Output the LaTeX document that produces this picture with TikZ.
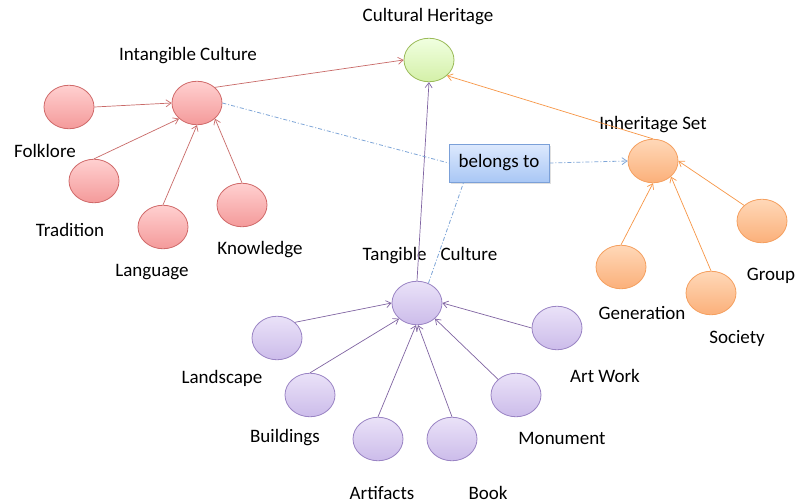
\documentclass[tikz,border=0pt]{standalone}
\usepackage{fontspec}
\setmainfont{Carlito}
\usetikzlibrary{shapes.geometric,arrows.meta}
\definecolor{redline}{HTML}{C0504D}
\definecolor{redfill1}{HTML}{FFD0D0}
\definecolor{redfill2}{HTML}{F49A9A}
\definecolor{redborder}{HTML}{D06A6A}
\definecolor{grnfill1}{HTML}{F0FFE0}
\definecolor{grnfill2}{HTML}{D4F0A8}
\definecolor{grnborder}{HTML}{9BBB59}
\definecolor{orgline}{HTML}{F79646}
\definecolor{orgfill1}{HTML}{FFD8B8}
\definecolor{orgfill2}{HTML}{FBB07A}
\definecolor{orgborder}{HTML}{F5A060}
\definecolor{purline}{HTML}{8064A2}
\definecolor{purfill1}{HTML}{EAE2F8}
\definecolor{purfill2}{HTML}{CCBCEA}
\definecolor{purborder}{HTML}{9A84C4}
\definecolor{blueline}{HTML}{7FA6D8}
\definecolor{boxfill1}{HTML}{DDE9FD}
\definecolor{boxfill2}{HTML}{A9C7F5}
\definecolor{boxborder}{HTML}{7BA0D8}
\tikzset{
  blob/.style={ellipse, minimum width=50pt, minimum height=43.5pt, inner sep=0pt, line width=0.8pt},
  redblob/.style={blob, draw=redborder, top color=redfill1, bottom color=redfill2},
  grnblob/.style={blob, draw=grnborder, top color=grnfill1, bottom color=grnfill2},
  orgblob/.style={blob, draw=orgborder, top color=orgfill1, bottom color=orgfill2},
  purblob/.style={blob, draw=purborder, top color=purfill1, bottom color=purfill2},
  lbl/.style={font=\fontsize{19}{22}\selectfont, text=black, inner sep=0pt},
  arr/.style={-{Straight Barb[length=5pt,width=7pt]}, line width=0.7pt},
  redarr/.style={arr, draw=redline!85},
  orgarr/.style={arr, draw=orgline},
  purarr/.style={arr, draw=purline},
  bluedash/.style={draw=blueline, line width=0.8pt, dash pattern=on 4pt off 2pt on 1pt off 2pt},
  bluearr/.style={bluedash, -{Straight Barb[length=5pt,width=7pt]}},
  boxsty/.style={draw=boxborder, top color=boxfill1, bottom color=boxfill2, minimum width=100pt, minimum height=38pt, line width=0.8pt, font=\fontsize{19}{22}\selectfont}
}
\begin{document}
\begin{tikzpicture}[x=1pt,y=-1pt]
\useasboundingbox (0,0) rectangle (797,503);
\fill[white] (0,0) rectangle (797,503);
% nodes
\node[grnblob] (ch) at (429,60) {};
\node[redblob] (intang) at (197,103) {};
\node[redblob] (folk) at (69,107) {};
\node[redblob] (trad) at (94,181) {};
\node[redblob] (lang) at (163,227) {};
\node[redblob] (know) at (242,205) {};
\node[orgblob] (inh) at (653,161) {};
\node[orgblob] (group) at (762,221) {};
\node[orgblob] (gen) at (621,267) {};
\node[orgblob] (soc) at (711,293) {};
\node[purblob] (tang) at (417,303) {};
\node[purblob] (land) at (277,338) {};
\node[purblob] (build) at (310,395) {};
\node[purblob] (artf) at (378,439) {};
\node[purblob] (book) at (452,439) {};
\node[purblob] (monu) at (516,395) {};
\node[purblob] (artw) at (557,328) {};
\fill[black!12] (450.5,145.5) rectangle (550.5,183.5);
\node[boxsty] (bel) at (499,163) {belongs to};
% labels
\node[lbl] (lch) at (428,17) {Cultural Heritage};
\node[lbl] (lintang) at (188,56) {Intangible Culture};
\node[lbl] (lfolk) at (45,151) {Folklore};
\node[lbl] (ltrad) at (70,230) {Tradition};
\node[lbl] (llang) at (152,272) {Language};
\node[lbl] (lknow) at (260,250) {Knowledge};
\node[lbl] (linh) at (653,125) {Inheritage Set};
\node[lbl] (lgroup) at (771,276) {Group};
\node[lbl] (lgen) at (642,313) {Generation};
\node[lbl] (lsoc) at (737,338) {Society};
\node[lbl] (ltang) at (430,256) {Tangible\hspace{14pt}Culture};
\node[lbl] (lland) at (222,378) {Landscape};
\node[lbl] (lbuild) at (285,438) {Buildings};
\node[lbl] (lartf) at (382,493) {Artifacts};
\node[lbl] (lbook) at (488,493) {Book};
\node[lbl] (lmonu) at (562,438) {Monument};
\node[lbl] (lartw) at (605,376) {Art Work};
% edges
\draw[redarr] (folk.east) -- (intang.west);
\draw[redarr] (trad.north) -- (intang.south west);
\draw[redarr] (lang.north) -- (intang.south);
\draw[redarr] (know.north) -- (intang.south east);
\draw[redarr] (intang.north east) -- (ch.west);
\draw[orgarr] (inh.north) -- (ch.south east);
\draw[orgarr] (gen.north) -- (inh.south);
\draw[orgarr] (soc.north) -- (inh.south east);
\draw[orgarr] (group.north west) -- (inh.east);
\draw[purarr] (tang.north) -- (ch.south);
\draw[purarr] (land.north east) -- (tang.west);
\draw[purarr] (build.north) -- (tang.south west);
\draw[purarr] (artf.north) -- ([xshift=-1pt]tang.south);
\draw[purarr] (book.north) -- ([xshift=1pt]tang.south);
\draw[purarr] (monu.north west) -- (tang.south east);
\draw[purarr] (artw.west) -- (tang.east);
\draw[bluedash] (intang.east) -- (bel.west);
\draw[bluearr] (bel.east) -- (inh.west);
\draw[bluedash] (tang.60) -- ([xshift=15pt]bel.south west);
\end{tikzpicture}
\end{document}
